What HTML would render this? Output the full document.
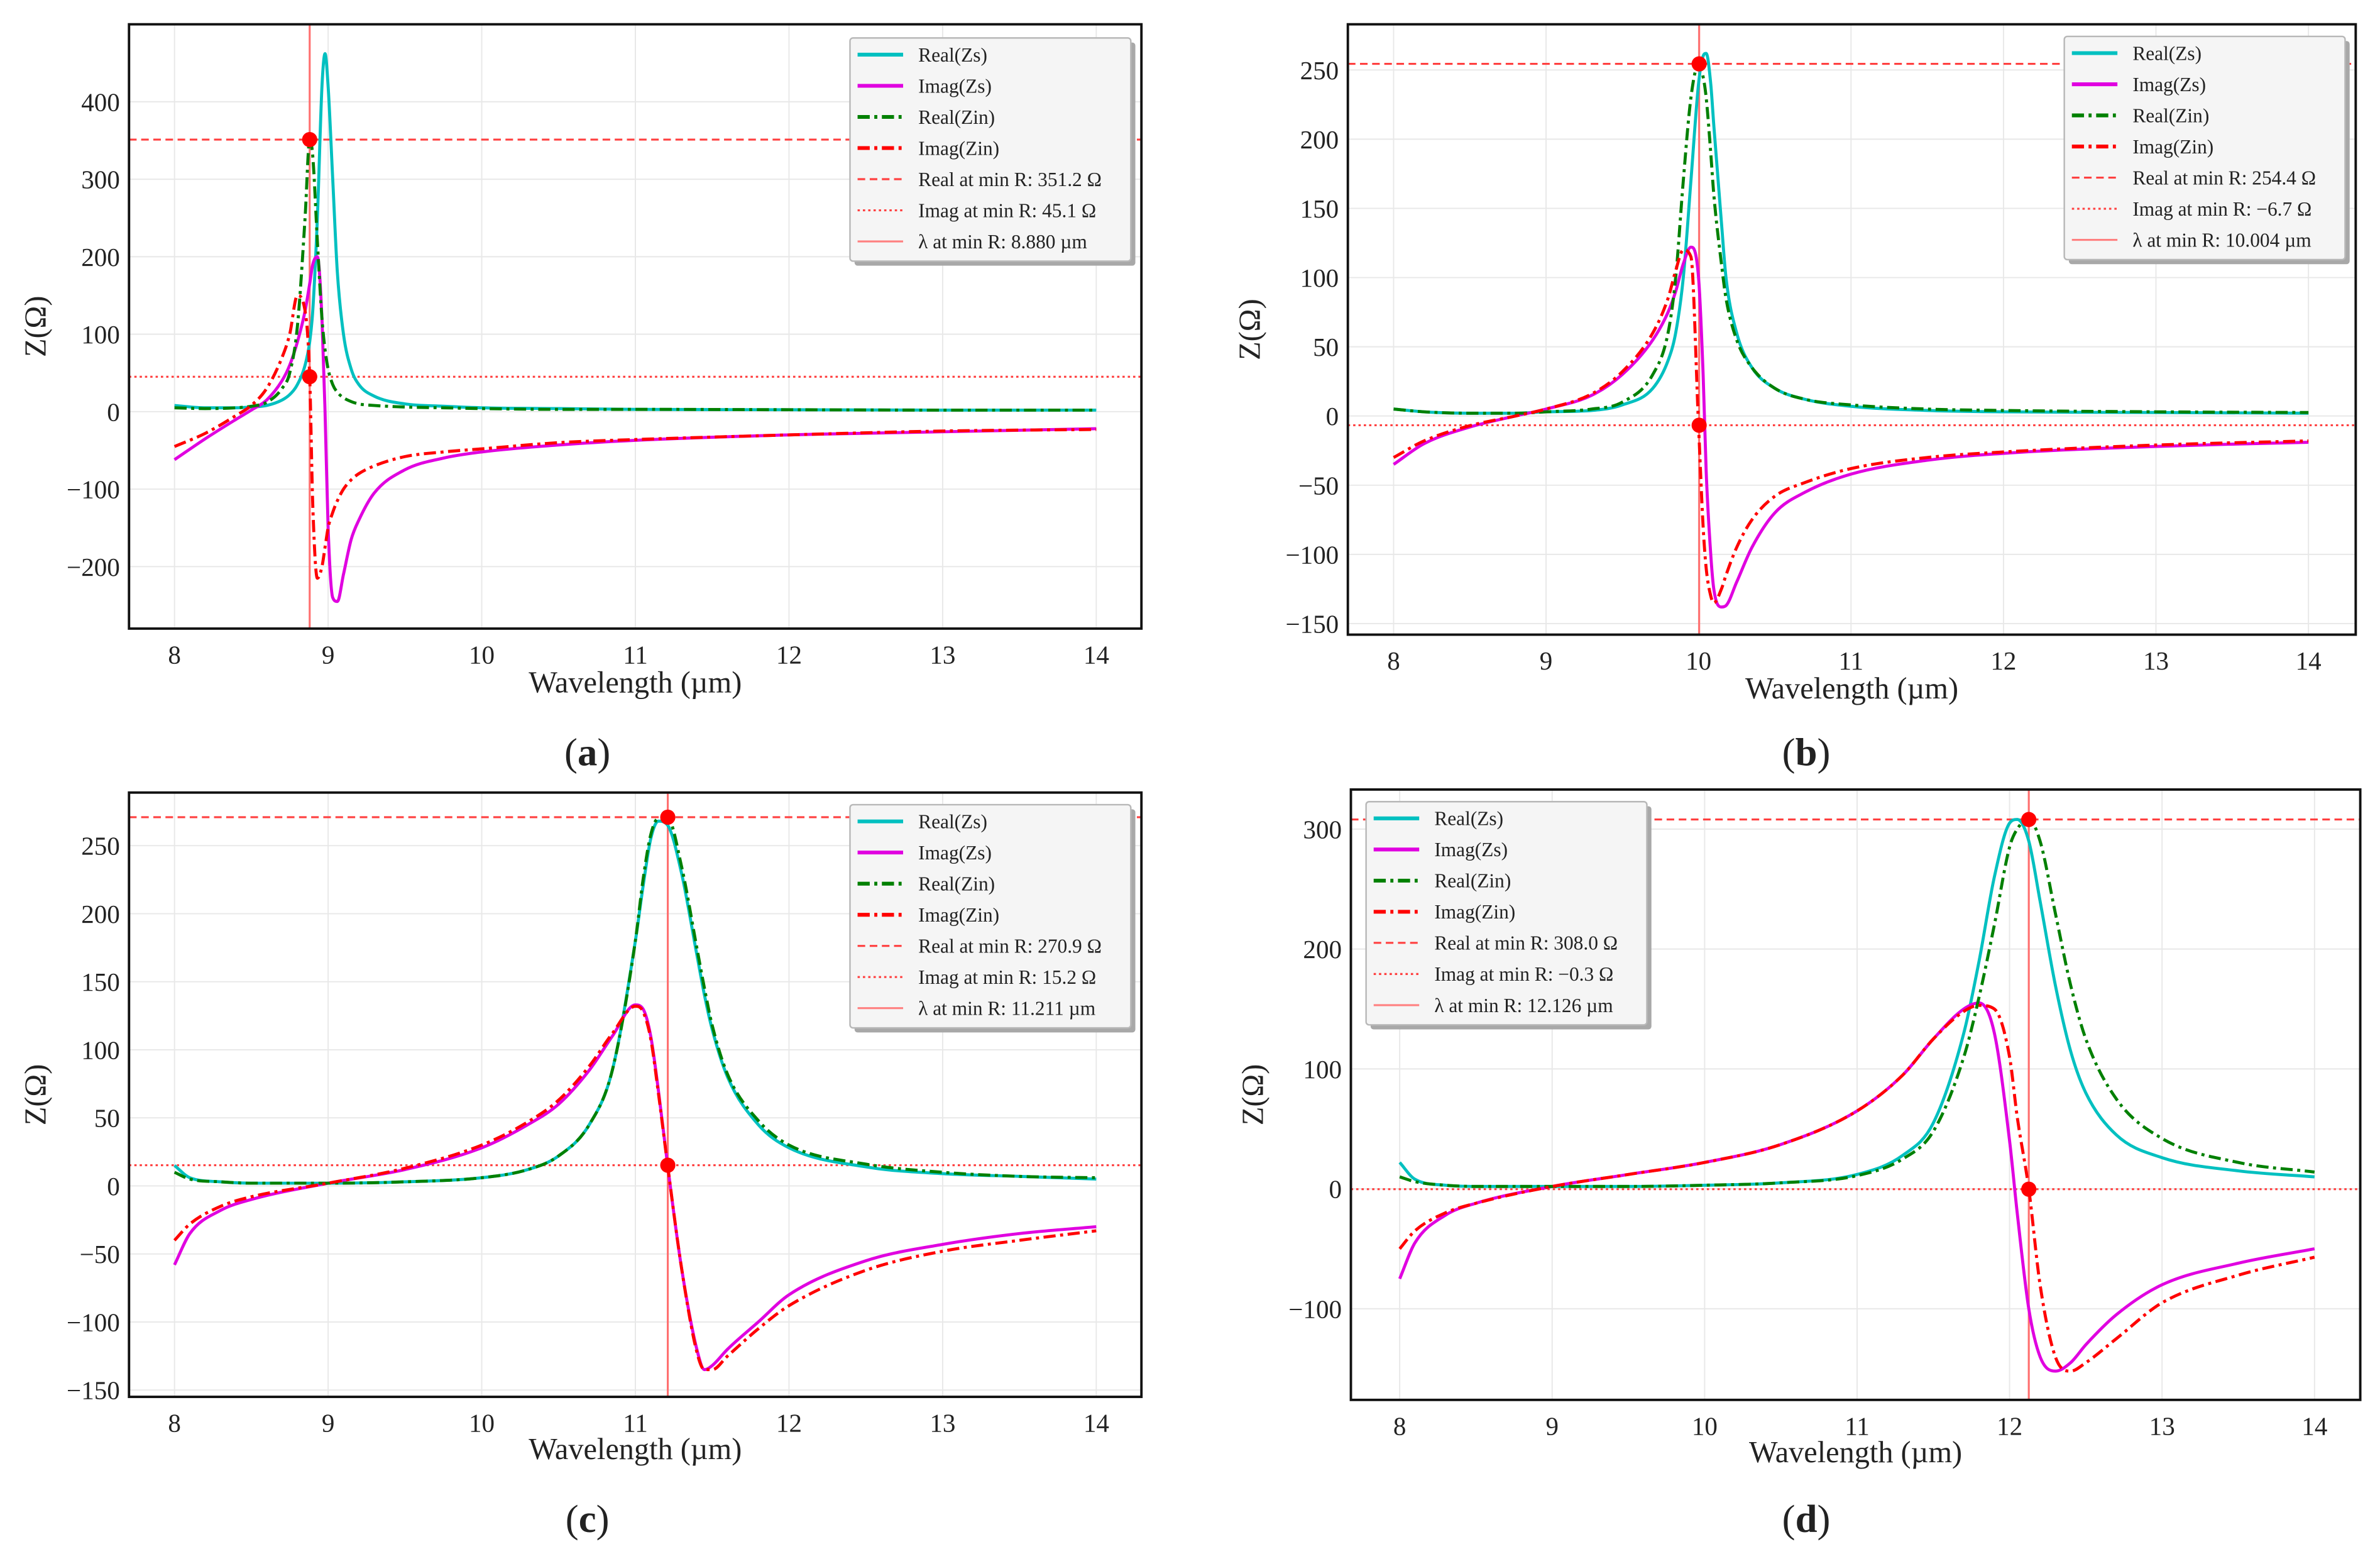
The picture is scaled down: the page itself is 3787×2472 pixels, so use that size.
<!DOCTYPE html>
<html><head><meta charset="utf-8"><style>
html,body{margin:0;padding:0;background:#fff}
svg{display:block}
text{font-family:"Liberation Serif","DejaVu Serif",serif;fill:#222}
</style></head><body>
<svg id="fig" xmlns="http://www.w3.org/2000/svg" width="3787" height="2472" viewBox="0 0 1568 1023.5" preserveAspectRatio="none"></svg>
<script>
// ---- Panel (a) data ----
const xA=[8,8.2,8.4,8.5,8.6,8.7,8.75,8.8,8.85,8.88,8.9,8.93,8.96,8.98,9.0,9.03,9.06,9.1,9.15,9.2,9.3,9.5,9.75,10,10.5,11,12,13,14];
const reZsA=[8,5,5,6,8,15,22,35,60,90,130,250,420,462,420,300,180,100,55,35,20,10,7,5,4,3,2.5,2,2];
const imZsA=[-62,-35,-10,2,15,40,60,90,130,165,190,200,120,0,-150,-240,-245,-210,-165,-140,-105,-75,-60,-52,-43,-37,-30,-26,-22];
const reZinA=[5,4,5,7,12,30,50,110,250,351,330,220,120,80,55,35,25,18,13,10,8,6,5,4,3,3,2.5,2,2];
const imZinA=[-45,-28,-5,8,30,70,100,150,130,45,-120,-215,-200,-175,-150,-130,-115,-100,-88,-80,-70,-58,-52,-48,-40,-36,-30,-25,-23];
const refA=[351.2,45.1,8.880];
const legA=["Real at min R: 351.2 Ω","Imag at min R: 45.1 Ω","λ at min R: 8.880 µm"];
// ---- Panel (b) data ----
const xB=[8,8.2,8.5,8.8,9,9.3,9.5,9.7,9.8,9.85,9.9,9.95,10,10.03,10.05,10.08,10.1,10.15,10.18,10.25,10.35,10.5,10.7,11,11.5,12,13,14];
const reZsB=[5,3,2,2,3,4,8,20,40,60,100,170,240,260,262,240,210,140,100,60,35,20,12,7,4,3,2.5,2];
const imZsB=[-35,-20,-8,0,5,15,30,55,75,90,110,122,100,30,-40,-100,-125,-138,-137,-120,-95,-70,-55,-42,-32,-27,-22,-19];
const reZinB=[5,3,2,2,3,5,10,30,60,100,170,230,254,245,230,190,160,110,85,55,35,20,12,8,5,4,3,2.5];
const imZinB=[-30,-18,-7,0,5,16,32,60,85,105,120,115,-7,-80,-110,-130,-135,-125,-115,-95,-75,-58,-48,-38,-30,-26,-21,-18];
const refB=[254.4,-6.7,10.004];
const legB=["Real at min R: 254.4 Ω","Imag at min R: −6.7 Ω","λ at min R: 10.004 µm"];
// ---- Panel (c) data ----
const xC=[8,8.1,8.3,8.5,9,9.5,10,10.3,10.5,10.7,10.85,11,11.05,11.1,11.15,11.21,11.3,11.4,11.45,11.5,11.6,11.8,12,12.5,13,13.5,14];
const reZsC=[15,6,3,2,2,3,6,12,22,45,85,180,220,255,268,265,230,170,140,115,80,45,28,14,9,7,5];
const imZsC=[-58,-35,-18,-10,2,12,28,45,60,85,110,133,130,110,70,15,-60,-120,-135,-132,-120,-100,-80,-55,-43,-35,-30];
const reZinC=[10,5,3,2,2,3,6,12,22,45,85,180,225,258,270,270,235,175,145,118,82,48,30,16,10,7,6];
const imZinC=[-40,-28,-15,-8,2,13,30,47,63,88,112,132,128,108,68,15,-60,-122,-135,-135,-125,-105,-88,-62,-48,-40,-33];
const refC=[270.9,15.2,11.211];
const legC=["Real at min R: 270.9 Ω","Imag at min R: 15.2 Ω","λ at min R: 11.211 µm"];
// ---- Panel (d) data ----
const xD=[8,8.1,8.3,8.5,9,9.5,10,10.5,11,11.3,11.5,11.7,11.8,11.9,12,12.05,12.126,12.2,12.3,12.4,12.5,12.7,13,13.5,14];
const reZsD=[22,8,3,2,2,2,3,5,12,28,55,130,190,260,305,308,290,240,170,115,80,45,26,15,10];
const imZsD=[-75,-45,-22,-12,2,12,22,37,65,95,125,150,155,130,40,-20,-100,-140,-152,-145,-130,-105,-80,-62,-50];
const reZinD=[10,6,3,2,2,2,3,5,11,25,48,110,160,220,285,300,308,290,230,170,125,75,42,22,14];
const imZinD=[-50,-35,-20,-12,2,12,22,37,65,95,125,148,153,150,110,60,0,-80,-140,-152,-145,-125,-95,-72,-57];
const refD=[308.0,-0.3,12.126];
const legD=["Real at min R: 308.0 Ω","Imag at min R: −0.3 Ω","λ at min R: 12.126 µm"];
const xTicks=[8,9,10,11,12,13,14];
const yTicksA=[-200,-100,0,100,200,300,400];
const yTicksB=[-150,-100,-50,0,50,100,150,200,250];
const yTicksC=[-150,-100,-50,0,50,100,150,200,250];
const yTicksD=[-100,0,100,200,300];
const seriesNames=["Real(Zs)","Imag(Zs)","Real(Zin)","Imag(Zin)"];

const NS="http://www.w3.org/2000/svg";
const svg=document.getElementById('fig');
function mk(tag,attrs,parent){const e=document.createElementNS(NS,tag);for(const k in attrs)e.setAttribute(k,attrs[k]);(parent||svg).appendChild(e);return e;}

// monotone cubic path through pixel points
function smoothPath(px,py){
  const n=px.length;const d=[],m=new Array(n);
  for(let i=0;i<n-1;i++)d.push((py[i+1]-py[i])/(px[i+1]-px[i]));
  m[0]=d[0];m[n-1]=d[n-2];
  for(let i=1;i<n-1;i++){m[i]=(d[i-1]*d[i]<=0)?0:(d[i-1]+d[i])/2;}
  for(let i=0;i<n-1;i++){
    if(d[i]===0){m[i]=0;m[i+1]=0;continue;}
    const a=m[i]/d[i],b=m[i+1]/d[i],s=a*a+b*b;
    if(s>9){const t=3/Math.sqrt(s);m[i]=t*a*d[i];m[i+1]=t*b*d[i];}
  }
  let p='M'+px[0].toFixed(2)+','+py[0].toFixed(2);
  for(let i=0;i<n-1;i++){
    const h=(px[i+1]-px[i])/3;
    p+=' C'+(px[i]+h).toFixed(2)+','+(py[i]+m[i]*h).toFixed(2)+' '+(px[i+1]-h).toFixed(2)+','+(py[i+1]-m[i+1]*h).toFixed(2)+' '+px[i+1].toFixed(2)+','+py[i+1].toFixed(2);
  }
  return p;
}

const panels=[
 {id:'a',box:[85,16,752,414],xr:[7.704,14.294],yr:[-280,500],x:xA,s:[reZsA,imZsA,reZinA,imZinA],ref:refA,leg:legA,yt:yTicksA,lg:[560,25],lab:[387,495],yl:30,xl:450},
 {id:'b',box:[888,16,1552,418],xr:[7.70,14.31],yr:[-158,283],x:xB,s:[reZsB,imZsB,reZinB,imZinB],ref:refB,leg:legB,yt:yTicksB,lg:[1360,24],lab:[1190,495],yl:830,xl:454},
 {id:'c',box:[85,522,752,920],xr:[7.704,14.294],yr:[-155,289],x:xC,s:[reZsC,imZsC,reZinC,imZinC],ref:refC,leg:legC,yt:yTicksC,lg:[560,530],lab:[387,1000],yl:30,xl:955},
 {id:'d',box:[890,520,1555,922],xr:[7.68,14.30],yr:[-176,333],x:xD,s:[reZsD,imZsD,reZinD,imZinD],ref:refD,leg:legD,yt:yTicksD,lg:[900,528],lab:[1190,1000],yl:832,xl:957}
];
const colors=['#00c0c0','#e000e0','#008000','#ff0000'];
const dashes=['','','8,3,2,3','8,3,2,3'];

panels.forEach(p=>{
  const [L,T,R,B]=p.box;
  const g=mk('g',{});
  
  
  const X=v=>L+(v-p.xr[0])/(p.xr[1]-p.xr[0])*(R-L);
  const Y=v=>B-(v-p.yr[0])/(p.yr[1]-p.yr[0])*(B-T);
  const clip=mk('clipPath',{id:'clip'+p.id},g);mk('rect',{x:L,y:T,width:R-L,height:B-T},clip);
  xTicks.forEach(t=>{const l=mk('line',{x1:X(t),x2:X(t),y1:T,y2:B,stroke:'#e8e8e8','stroke-width':0.8},g);});
  p.yt.forEach(t=>{const l=mk('line',{x1:L,x2:R,y1:Y(t),y2:Y(t),stroke:'#e8e8e8','stroke-width':0.8},g);});
  const cg=mk('g',{'clip-path':'url(#clip'+p.id+')'},g);
  let e=mk('line',{x1:L,x2:R,y1:Y(p.ref[0]),y2:Y(p.ref[0]),stroke:'#ff4040','stroke-width':1.3,'stroke-dasharray':'5,3'},cg);
  
  e=mk('line',{x1:L,x2:R,y1:Y(p.ref[1]),y2:Y(p.ref[1]),stroke:'#ff4040','stroke-width':1.3,'stroke-dasharray':'1.5,2'},cg);
  
  e=mk('line',{x1:X(p.ref[2]),x2:X(p.ref[2]),y1:T,y2:B,stroke:'#ff7070','stroke-width':1.3},cg);
  
  p.s.forEach((arr,i)=>{
    const d=smoothPath(p.x.map(X),arr.map(Y));
    const a={d:d,fill:'none',stroke:colors[i],'stroke-width':2,'stroke-linejoin':'round'};
    if(dashes[i])a['stroke-dasharray']=dashes[i];
    const pe=mk('path',a,cg);
    
    
  });
  e=mk('circle',{cx:X(p.ref[2]),cy:Y(p.ref[0]),r:5,fill:'#ff0000'},g);
  
  e=mk('circle',{cx:X(p.ref[2]),cy:Y(p.ref[1]),r:5,fill:'#ff0000'},g);
  
  e=mk('rect',{x:L,y:T,width:R-L,height:B-T,fill:'none',stroke:'#111','stroke-width':1.6},g);
  
  xTicks.forEach(t=>{const tx=mk('text',{x:X(t),y:B+23,'font-size':17,'text-anchor':'middle'},g);tx.textContent=t;});
  p.yt.forEach(t=>{const tx=mk('text',{x:L-6,y:Y(t)+6,'font-size':17,'text-anchor':'end'},g);tx.textContent=(t<0?'−'+(-t):t);});
  let tx=mk('text',{x:(L+R)/2,y:p.xl+6,'font-size':20,'text-anchor':'middle'},g);tx.textContent='Wavelength (µm)';
  
  const yc=(T+B)/2, yx=p.yl;
  tx=mk('text',{x:yx,y:yc,'font-size':20,'text-anchor':'middle',transform:'rotate(-90 '+yx+' '+yc+')'},g);tx.textContent='Z(Ω)';
  
  tx=mk('text',{x:p.lab[0],y:p.lab[1]+9,'font-size':26,'text-anchor':'middle'},g);
  tx.innerHTML='(<tspan font-weight="bold">'+p.id+'</tspan>)';
  
  const [lx,ly]=p.lg;
  const lg=mk('g',{},g);
  mk('rect',{x:lx+3,y:ly+3,width:185,height:147,fill:'#a8a8a8',rx:2},lg);
  mk('rect',{x:lx,y:ly,width:185,height:147,fill:'#f5f5f5',stroke:'#b8b8b8','stroke-width':1,rx:2},lg);
  const items=[
    {c:colors[0],d:'',w:2.5,t:seriesNames[0]},{c:colors[1],d:'',w:2.5,t:seriesNames[1]},
    {c:colors[2],d:'8,3,2,3',w:2.5,t:seriesNames[2]},{c:colors[3],d:'8,3,2,3',w:2.5,t:seriesNames[3]},
    {c:'#ff4040',d:'5,3',w:1.3,t:p.leg[0]},{c:'#ff4040',d:'1.5,2',w:1.3,t:p.leg[1]},{c:'#ff8080',d:'',w:1.3,t:p.leg[2]}];
  items.forEach((it,k)=>{
    const yy=ly+11+k*20.5;
    const a={x1:lx+5,x2:lx+35,y1:yy,y2:yy,stroke:it.c,'stroke-width':it.w};
    if(it.d)a['stroke-dasharray']=it.d;
    const ln=mk('line',a,lg);
    const t2=mk('text',{x:lx+45,y:yy+4.5,'font-size':13},lg);t2.textContent=it.t;
    
  });
});
</script>
</body></html>
